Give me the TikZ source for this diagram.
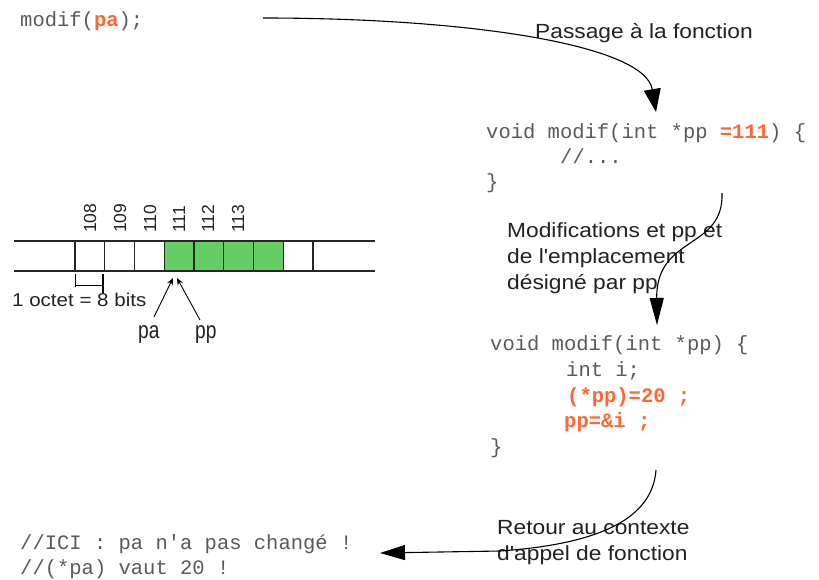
\documentclass[tikz,border=0pt]{standalone}
\usepackage{fontspec}
\setmainfont{Liberation Sans}
\setmonofont{Liberation Mono}
\newfontfamily\labelfont{Liberation Sans}[FakeStretch=1.11]
\newfontfamily\ptrfont{Liberation Sans}[FakeStretch=0.8]
\usetikzlibrary{arrows.meta}
\definecolor{codegray}{HTML}{5A5A5A}
\definecolor{hilite}{HTML}{FF6633}
\definecolor{cellgreen}{HTML}{66CC66}
\definecolor{ink}{HTML}{222222}

\begin{document}
\begin{tikzpicture}[x=1pt,y=-1pt,
  code/.style={anchor=base west, inner sep=0pt, text=codegray,
    font=\ttfamily\fontsize{20.5}{25}\selectfont},
  hot/.style={anchor=base west, inner sep=0pt, text=hilite,
    font=\ttfamily\bfseries\fontsize{20.5}{25}\selectfont},
  caption/.style={anchor=base west, inner sep=0pt, text=ink,
    font=\labelfont\fontsize{20.5}{26}\selectfont},
  addr/.style={anchor=base west, inner sep=0pt, rotate=90, text=ink,
    font=\fontsize{17.5}{20}\selectfont},
  ptrname/.style={anchor=base west, inner sep=0pt, text=ink,
    font=\ptrfont\fontsize{24}{28}\selectfont},
  flow/.style={draw=black, line width=1.1pt},
  strip/.style={draw=black!85, line width=1.2pt},
  ptr/.style={draw=black, line width=0.9pt, -{Stealth[length=7pt,width=6pt]}}
]
\useasboundingbox (0,0) rectangle (819,579);

% ---- call site ----
\node[code] (call) at (20,26) {modif(\textcolor{hilite}{\bfseries pa});};

% ---- first view of the function ----
\node[code] (f1a) at (486,138) {void modif(int *pp \textcolor{hilite}{\bfseries =111}) \{};
\node[code] (f1b) at (560,163) {//...};
\node[code] (f1c) at (486,188) {\}};

% ---- second view of the function ----
\node[code] (f2a) at (490,350) {void modif(int *pp) \{};
\node[code] (f2b) at (566,376) {int i;};
\node[hot]  (f2c) at (567,402) {(*pp)=20 ;};
\node[hot]  (f2d) at (564,427) {pp=\&i ;};
\node[code] (f2e) at (490,453) {\}};

% ---- back at the call site ----
\node[code] (ret1) at (20,549) {//ICI : pa n'a pas changé !};
\node[code] (ret2) at (20,574) {//(*pa) vaut 20 !};

% ---- captions ----
\node[caption] (cap1)  at (535,38)  {Passage à la fonction};
\node[caption] (cap2a) at (507,237) {Modifications et pp et};
\node[caption] (cap2b) at (507,263) {de l'emplacement};
\node[caption] (cap2c) at (507,289) {désigné par pp};
\node[caption] (cap3a) at (497,534) {Retour au contexte};
\node[caption] (cap3b) at (497,560) {d'appel de fonction};

% ---- flow arrows ----
\coordinate (a1s) at (263,18);
\coordinate (a1e) at (656,112);
\draw[flow, -{Triangle[length=23pt,width=17pt]}]
  (a1s) .. controls (470,18) and (645,45) .. (a1e);

\coordinate (a2s) at (722,193);
\coordinate (a2e) at (657,325);
\draw[flow, -{Triangle[length=27pt,width=14pt]}]
  (a2s) .. controls (724,250) and (656,235) .. (a2e);

\coordinate (a3s) at (656,470);
\coordinate (a3m) at (500,551);
\coordinate (a3e) at (380,553);
\draw[flow, -{Triangle[length=25pt,width=15pt]}]
  (a3s) .. controls (652,525) and (585,545) .. (a3m) -- (a3e);

% ---- memory strip ----
\fill[cellgreen] (164.25,241) rectangle (283.25,271);
\draw[strip] (14,241) -- (375,241);
\draw[strip] (14,271) -- (375,271);
\foreach \i in {0,...,8}
  \draw[strip] (75+29.75*\i,241) -- (75+29.75*\i,271);

% addresses above the cells
\node[addr] (m108) at (96,233)  {108};
\node[addr] (m109) at (126,233) {109};
\node[addr] (m110) at (156,233) {110};
\node[addr] (m111) at (185,233) {111};
\node[addr] (m112) at (214,233) {112};
\node[addr] (m113) at (244,233) {113};

% size of one cell
\draw[line width=1pt] (75,274) -- (75,287);
\draw[line width=1pt] (75,285) -- (103,285);
\draw[line width=2pt] (103,274) -- (103,294);
\node[anchor=base west, inner sep=0pt, text=ink,
  font=\labelfont\fontsize{18.5}{22}\selectfont] (octet) at (12,306) {1 octet = 8 bits};

% the two pointers
\node[ptrname] (pa) at (138,338) {pa};
\node[ptrname] (pp) at (195,338) {pp};
\coordinate (tipa) at (173,278);
\coordinate (tipp) at (177,278);
\coordinate (pas) at (154,317);
\coordinate (pps) at (200,320);
\draw[ptr] (pas) -- (tipa);
\draw[ptr] (pps) -- (tipp);
\end{tikzpicture}
\end{document}
